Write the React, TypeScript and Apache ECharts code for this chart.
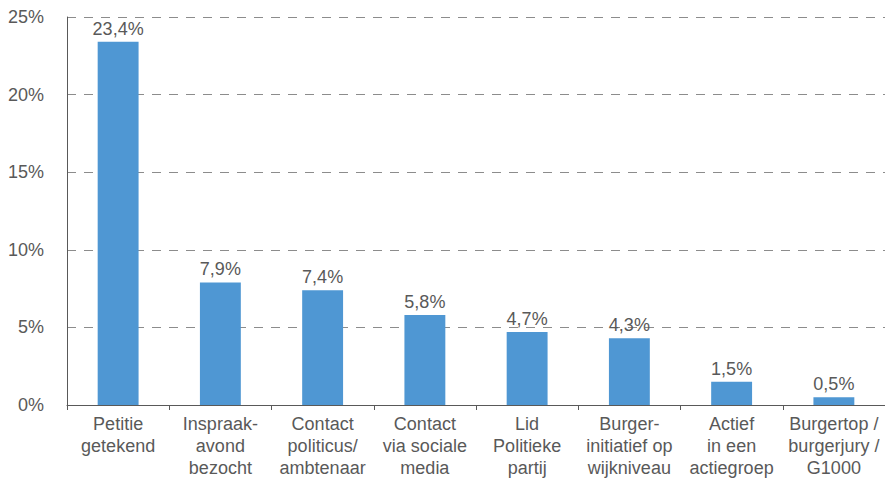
import React, { useEffect, useRef } from "react";
import * as echarts from "echarts";

const categories = [
  "Petitie\ngetekend",
  "Inspraak-\navond\nbezocht",
  "Contact\npoliticus/\nambtenaar",
  "Contact\nvia sociale\nmedia",
  "Lid\nPolitieke\npartij",
  "Burger-\ninitiatief op\nwijkniveau",
  "Actief\nin een\nactiegroep",
  "Burgertop /\nburgerjury /\nG1000",
];
const values = [23.4, 7.9, 7.4, 5.8, 4.7, 4.3, 1.5, 0.5];
const yTicks = [0, 5, 10, 15, 20, 25];

const FONT = "'Liberation Sans', Arial, sans-serif";
const TEXT = "#595959";

export default function App() {
  const ref = useRef<HTMLDivElement>(null);
  useEffect(() => {
    if (!ref.current) return;
    const chart = echarts.init(ref.current, undefined, { renderer: "svg" });
    chart.setOption({
      animation: false,
      textStyle: { fontFamily: FONT },
      grid: { left: 67, right: 0, top: 17, bottom: 75, containLabel: false },
      xAxis: {
        type: "category",
        data: categories,
        axisLine: { lineStyle: { color: "#595959", width: 1 } },
        axisTick: { show: true, length: 5, lineStyle: { color: "#595959" } },
        axisLabel: {
          color: TEXT,
          fontSize: 18,
          lineHeight: 22,
          margin: 8,
          interval: 0,
          fontFamily: FONT,
        },
      },
      yAxis: {
        type: "value",
        min: yTicks[0],
        max: yTicks[yTicks.length - 1],
        interval: 5,
        axisLine: { show: true, lineStyle: { color: "#595959", width: 1 } },
        axisTick: { show: false },
        axisLabel: {
          color: TEXT,
          fontSize: 18,
          margin: 23,
          fontFamily: FONT,
          formatter: (v: number) => `${v}%`,
        },
        splitLine: {
          show: true,
          lineStyle: { color: "#8c8c8c", type: [9, 8], width: 1 },
        },
      },
      series: [
        {
          type: "bar",
          data: values,
          barWidth: "40%",
          itemStyle: { color: "#4f97d3" },
          label: {
            show: true,
            position: "top",
            distance: 4,
            color: TEXT,
            fontSize: 18,
            fontFamily: FONT,
            formatter: (p: any) => `${String(p.value).replace(".", ",")}%`,
          },
        },
      ],
    });
    return () => chart.dispose();
  }, []);
  return (
    <div
      ref={ref}
      style={{ position: "fixed", left: 0, top: 0, width: 885, height: 480, background: "#fff" }}
    />
  );
}
